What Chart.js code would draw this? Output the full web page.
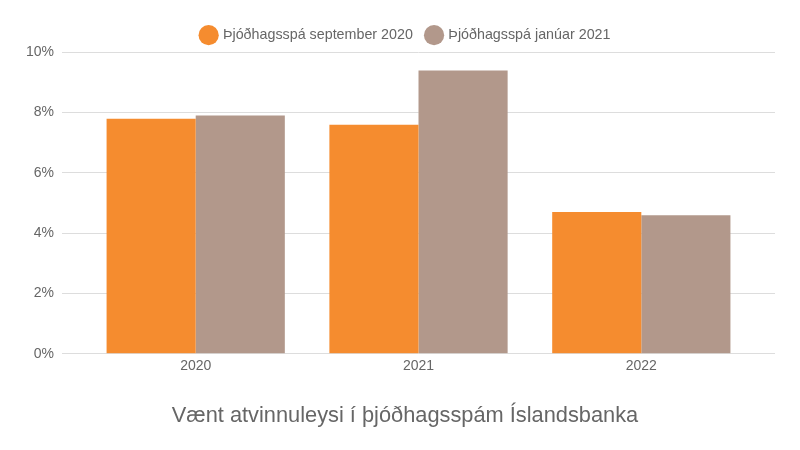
<!DOCTYPE html>
<html>
<head>
<meta charset="utf-8">
<script src="https://cdn.jsdelivr.net/npm/chart.js@4"></script>
<style>
html,body{margin:0;padding:0;background:#fff;}
#wrap{width:800px;height:450px;}
</style>
</head>
<body>
<div id="wrap"><canvas id="c"></canvas></div>
<script>
const categories = ["2020", "2021", "2022"];
const seriesNames = ["Þjóðhagsspá september 2020", "Þjóðhagsspá janúar 2021"];
const septValues = [7.8, 7.6, 4.7];
const janValues = [7.9, 9.4, 4.6];
const yTicks = [0, 2, 4, 6, 8, 10];
const titleText = "Vænt atvinnuleysi í þjóðhagsspám Íslandsbanka";

Chart.defaults.font.family = "'Liberation Sans', Arial, sans-serif";
Chart.defaults.color = "#666";

const toPoints = arr => arr.map((v, i) => ({ x: i, y: v }));

// centre legend and title over the same span as the reference (shifted slightly right)
const centreShift = {
  id: 'centreShift',
  afterLayout(chart) {
    if (chart.titleBlock) chart.titleBlock.left += 17;
    if (chart.legend) chart.legend.left += 19;
  }
};

new Chart(document.getElementById('c'), {
  type: 'bar',
  data: {
    datasets: [
      { label: seriesNames[0], data: toPoints(septValues), backgroundColor: '#F58C2F', borderWidth: 0 },
      { label: seriesNames[1], data: toPoints(janValues), backgroundColor: '#B2988B', borderWidth: 0 }
    ]
  },
  plugins: [centreShift],
  options: {
    responsive: true,
    maintainAspectRatio: false,
    animation: false,
    layout: { padding: { left: 18, right: 25, top: 14, bottom: 10.5 } },
    datasets: { bar: { categoryPercentage: 0.8, barPercentage: 1.0 } },
    plugins: {
      legend: {
        position: 'top',
        labels: { usePointStyle: true, pointStyle: 'circle', boxWidth: 16, boxHeight: 16, font: { size: 14.3 }, color: '#666', padding: 14 }
      },
      title: {
        display: true,
        text: titleText,
        position: 'bottom',
        font: { size: 21.8, weight: 'normal' },
        color: '#666',
        padding: { top: 24.7, bottom: 10 }
      },
      tooltip: { enabled: false }
    },
    scales: {
      x: {
        type: 'linear',
        min: -0.6, max: 2.6,
        offset: false,
        grid: { display: false, drawTicks: false },
        border: { display: false },
        afterBuildTicks: (axis) => { axis.ticks = categories.map((c, i) => ({ value: i })); },
        ticks: { font: { size: 14 }, color: '#666', padding: 4, callback: v => categories[v] }
      },
      y: {
        min: 0, max: 10,
        afterBuildTicks: (axis) => { axis.ticks = yTicks.map(v => ({ value: v })); },
        grid: { color: '#ddd', drawTicks: false },
        border: { display: false },
        ticks: { font: { size: 14 }, color: '#666', padding: 8, callback: v => v + '%' }
      }
    }
  }
});
</script>
</body>
</html>
